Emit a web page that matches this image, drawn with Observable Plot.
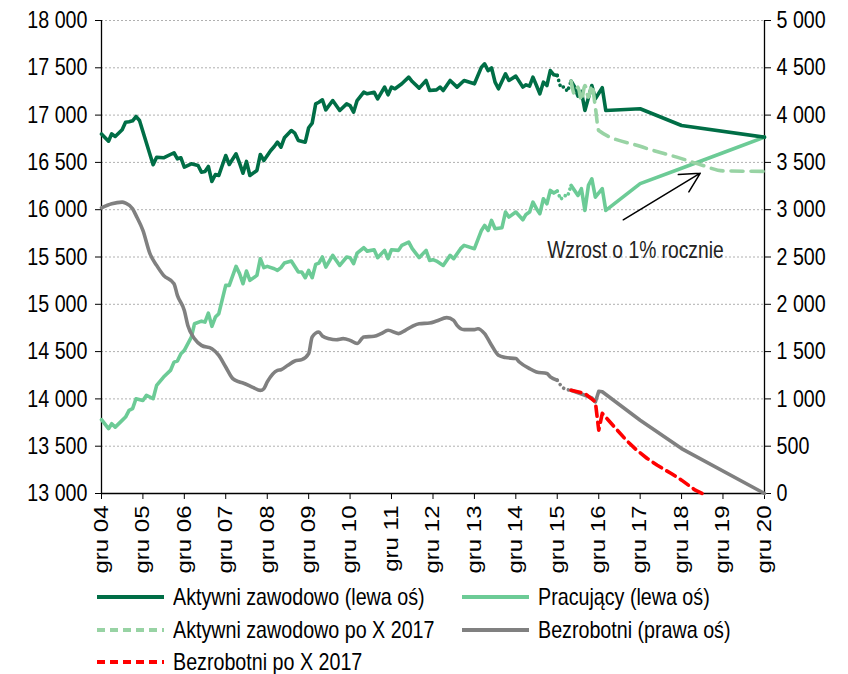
<!DOCTYPE html>
<html><head><meta charset="utf-8">
<script src="https://cdn.jsdelivr.net/npm/d3@7"></script>
<script src="https://cdn.jsdelivr.net/npm/@observablehq/plot@0.6"></script>
<style>
body{margin:0;background:#fff;font-family:"Liberation Sans",Arial,sans-serif;color:#000;}
#chart svg{display:block}
#legend{display:grid;grid-template-columns:365px auto;grid-auto-rows:32.5px;padding-left:97px;margin-top:1px;font-size:24px;}
#legend .item{display:flex;align-items:center;white-space:nowrap}
#legend svg{margin-right:9px;flex:none}
#legend span{display:inline-block;transform:scaleX(0.82);transform-origin:0 50%}
</style></head><body>
<div id="chart"></div>
<div id="legend"></div>
<script>
// ---- tick values ----
const yTicks = [13000,13500,14000,14500,15000,15500,16000,16500,17000,17500,18000];
const xTickYears = [2004,2005,2006,2007,2008,2009,2010,2011,2012,2013,2014,2015,2016,2017,2018,2019,2020];
const rightOffset = 13000; // right axis value = left value - 13000

// ---- Aktywni zawodowo (lewa oś), thousands ----
const aktywniMain = [["2004-12",16800],["2005-02",16724],["2005-03",16802],["2005-04",16774],["2005-06",16845],["2005-07",16925],["2005-08",16930],["2005-09",16940],["2005-10",16985],["2005-11",16943],
["2006-03",16475],["2006-04",16555],["2006-06",16549],["2006-09",16602],["2006-10",16538],["2006-11",16549],["2006-12",16450],
["2007-02",16485],["2007-04",16467],["2007-05",16397],["2007-06",16404],["2007-07",16457],["2007-08",16298],["2007-09",16372],["2007-10",16362],["2007-12",16573],
["2008-01",16478],["2008-03",16591],["2008-04",16492],["2008-05",16386],["2008-06",16510],["2008-07",16362],["2008-09",16415],["2008-10",16584],["2008-11",16520],
["2009-01",16626],["2009-02",16668],["2009-03",16714],["2009-04",16661],["2009-05",16760],["2009-07",16837],["2009-08",16809],["2009-09",16732],["2009-11",16714],["2009-12",16866],
["2010-01",16915],["2010-02",17119],["2010-03",17136],["2010-04",17162],["2010-05",17056],["2010-07",17154],["2010-09",17049],["2010-11",17119],["2010-12",17101],
["2011-01",17031],["2011-02",17154],["2011-04",17242],["2011-05",17225],["2011-07",17242],["2011-08",17172],["2011-10",17296],["2011-11",17215],["2011-12",17296],
["2012-01",17278],["2012-03",17331],["2012-05",17401],["2012-06",17355],["2012-08",17285],["2012-10",17366],["2012-11",17260],
["2013-01",17267],["2013-02",17296],["2013-03",17260],["2013-05",17366],["2013-07",17296],["2013-09",17366],["2013-12",17331],
["2014-02",17507],["2014-03",17542],["2014-04",17471],["2014-05",17500],["2014-06",17348],["2014-07",17278],["2014-09",17437],["2014-10",17366],["2014-12",17412],
["2015-02",17296],["2015-03",17320],["2015-04",17306],["2015-05",17401],["2015-06",17313],["2015-07",17225],["2015-08",17348],["2015-09",17313],["2015-10",17471],["2015-11",17426],["2015-12",17419]];
const aktywniGap = [["2015-12",17419],["2016-01",17290],["2016-02",17300],["2016-03",17250],["2016-04",17360]];
const aktywniTail = [["2016-04",17360],["2016-05",17300],["2016-06",17200],["2016-07",17250],["2016-08",17049],["2016-10",17313],["2016-11",17172],["2017-01",17289],["2017-02",17049],["2017-12",17067],["2018-12",16890],["2020-12",16767]];

// ---- Aktywni zawodowo po X 2017 ----
const aktywniPoX = [["2016-04",17360],["2016-05",17225],["2016-06",17296],["2016-07",17154],["2016-08",17313],["2016-09",17190],["2016-10",17313],["2016-11",17084],["2016-12",16837],["2017-12",16670],["2018-12",16540],["2019-06",16470],["2019-12",16410],["2020-12",16405]];

// ---- Pracujący (lewa oś) ----
const pracujacyMain = [["2004-12",13780],["2005-02",13685],["2005-03",13738],["2005-04",13702],["2005-06",13773],["2005-07",13808],["2005-08",13879],["2005-09",13897],["2005-10",14002],["2005-12",13984],
["2006-01",14037],["2006-03",14002],["2006-04",14143],["2006-06",14231],["2006-08",14301],["2006-09",14389],["2006-10",14400],["2006-11",14478],["2006-12",14513],
["2007-02",14653],["2007-03",14795],["2007-05",14822],["2007-06",14812],["2007-07",14907],["2007-08",14767],["2007-09",14865],["2007-10",14901],["2007-12",15200],
["2008-01",15200],["2008-03",15401],["2008-04",15324],["2008-05",15218],["2008-06",15351],["2008-07",15253],["2008-09",15306],["2008-10",15482],["2008-11",15387],["2008-12",15401],
["2009-02",15376],["2009-03",15358],["2009-04",15387],["2009-05",15436],["2009-07",15457],["2009-09",15341],["2009-10",15341],["2009-11",15281],["2009-12",15358],
["2010-01",15281],["2010-02",15422],["2010-03",15436],["2010-04",15500],["2010-05",15394],["2010-07",15517],["2010-09",15411],["2010-11",15500],["2010-12",15493],
["2011-01",15429],["2011-02",15541],["2011-04",15598],["2011-05",15562],["2011-07",15577],["2011-08",15493],["2011-10",15570],["2011-11",15482],["2011-12",15577],
["2012-02",15570],["2012-03",15623],["2012-05",15658],["2012-06",15588],["2012-08",15493],["2012-10",15570],["2012-11",15464],["2012-12",15472],
["2013-01",15457],["2013-03",15411],["2013-05",15517],["2013-06",15482],["2013-08",15588],["2013-09",15623],["2013-12",15588],
["2014-02",15781],["2014-03",15834],["2014-04",15781],["2014-05",15887],["2014-06",15799],["2014-08",15810],["2014-09",15975],["2014-10",15922],["2014-12",15975],
["2015-02",15894],["2015-03",15950],["2015-04",15975],["2015-05",16080],["2015-06",16011],["2015-07",15958],["2015-08",16116],["2015-09",16063],["2015-10",16204],["2015-11",16176],["2015-12",16197]];
const pracujacyGap = [["2015-12",16197],["2016-01",16109],["2016-02",16151],["2016-03",16140],["2016-04",16257]];
const pracujacyTail = [["2016-04",16257],["2016-06",16151],["2016-07",16222],["2016-08",15993],["2016-09",16257],["2016-10",16327],["2016-11",16133],["2017-01",16222],["2017-02",15993],["2017-12",16275],["2018-12",16438],["2019-12",16602],["2020-12",16767]];

// ---- Bezrobotni (prawa oś) ----
const bezrobotniMain = [["2004-12",3020],["2005-03",3063],["2005-06",3080],["2005-07",3069],["2005-09",3010],["2005-10",2940],["2005-12",2781],
["2006-02",2535],["2006-04",2411],["2006-06",2306],["2006-09",2218],["2006-10",2094],["2006-12",1935],
["2007-01",1777],["2007-03",1636],["2007-05",1566],["2007-08",1531],["2007-10",1460],["2007-12",1337],
["2008-02",1214],["2008-04",1179],["2008-05",1168],["2008-08",1119],["2008-10",1090],["2008-11",1108],["2008-12",1179],
["2009-03",1302],["2009-04",1309],["2009-06",1355],["2009-08",1401],["2009-10",1415],["2009-12",1479],
["2010-01",1654],["2010-03",1707],["2010-04",1665],["2010-06",1636],["2010-08",1626],["2010-10",1637],["2010-12",1619],
["2011-02",1585],["2011-04",1654],["2011-07",1662],["2011-09",1690],["2011-11",1725],
["2012-02",1690],["2012-04",1725],["2012-06",1767],["2012-08",1795],["2012-11",1802],
["2013-01",1823],["2013-04",1859],["2013-06",1830],["2013-07",1777],["2013-09",1732],["2013-12",1732],
["2014-01",1742],["2014-03",1690],["2014-05",1567],["2014-07",1461],["2014-09",1437],["2014-12",1426],
["2015-01",1390],["2015-04",1320],["2015-06",1285],["2015-09",1268],["2015-10",1232],["2015-12",1197]];
const bezrobotniGap = [["2015-12",1197],["2016-02",1109],["2016-04",1091]];
const bezrobotniTail = [["2016-04",1091],["2016-08",1039],["2016-10",1010],["2016-11",968],["2016-12",1081],["2017-01",1075],["2017-12",775],["2018-12",475],["2020-12",0]];

// ---- Bezrobotni po X 2017 ----
const bezrobotniPoX = [["2016-04",1091],["2016-08",1056],["2016-11",968],["2016-12",670],["2017-01",847],["2017-08",563],["2017-11",458],["2018-02",370],["2018-05",299],["2018-09",211],["2018-12",141],["2019-04",35],["2019-06",0]];

// ---- annotation ----
const noteText = ["Wzrost o 1% rocznie"];
const notePos = [["2017-10-20",15570]];
const arrowFrom = [["2017-07-05",15893]];
const arrowTo = [["2019-05-15",16386]];

// ---- colours ----
const cDark = "#006E46", cLight = "#6CCB96", cDash = "#98D3A4", cGrey = "#808080", cRed = "#FF0000";
const FONT = '"Liberation Sans",Arial,sans-serif';
const NARROW = 0.82; // horizontal squeeze to mimic the narrow typeface of the reference

const rows = (arr, off = 0) => arr.map(([d, v]) => ({date: new Date(d), value: v + off}));
const xDomain = [new Date("2004-12"), new Date("2020-12")];
const xTicks = xTickYears.map(y => new Date(`${y}-12`));
const fmt = v => v === 0 ? "0" : d3.format(",")(v).replace(/,/g, " ");

const W = 3.6;
const chart = Plot.plot({
  width: 848, height: 580,
  marginTop: 20, marginBottom: 87, marginLeft: 101, marginRight: 84,
  style: {fontFamily: FONT, fontSize: "24px", color: "#000", background: "#fff"},
  x: {type: "utc", domain: xDomain},
  y: {domain: [13000, 18000]},
  marks: [
    Plot.gridY(yTicks, {stroke: "#b0b0b0", strokeOpacity: 1, strokeDasharray: "2,2", strokeWidth: 1}),
    Plot.axisY(yTicks, {anchor: "left", tickFormat: fmt, tickSize: 6, tickPadding: 8, label: null, fontSize: 24}),
    Plot.axisY(yTicks, {anchor: "right", tickFormat: d => fmt(d - rightOffset), tickSize: 6, tickPadding: 6, label: null, fontSize: 24}),
    Plot.axisX(xTicks, {anchor: "bottom", tickFormat: d => "gru " + String(d.getUTCFullYear()).slice(2), tickRotate: -90, tickSize: 6, tickPadding: 6, label: null, fontSize: 24}),
    Plot.ruleX([xDomain[0], xDomain[1]], {y1: 13000, y2: 18000, stroke: "#000", strokeWidth: 1.3}),
    Plot.ruleY([13000], {stroke: "#000", strokeWidth: 1.3}),
    // Pracujący
    Plot.line(rows(pracujacyMain), {x: "date", y: "value", stroke: cLight, strokeWidth: W, strokeLinejoin: "round"}),
    Plot.line(rows(pracujacyGap), {x: "date", y: "value", stroke: cLight, strokeWidth: W, strokeDasharray: "0.1,5", strokeLinecap: "round"}),
    Plot.line(rows(pracujacyTail), {x: "date", y: "value", stroke: cLight, strokeWidth: W, strokeLinejoin: "round"}),
    // Aktywni
    Plot.line(rows(aktywniMain), {x: "date", y: "value", stroke: cDark, strokeWidth: W, strokeLinejoin: "round"}),
    Plot.line(rows(aktywniGap), {x: "date", y: "value", stroke: cDark, strokeWidth: W, strokeDasharray: "0.1,5", strokeLinecap: "round"}),
    Plot.line(rows(aktywniTail), {x: "date", y: "value", stroke: cDark, strokeWidth: W, strokeLinejoin: "round"}),
    // Bezrobotni
    Plot.line(rows(bezrobotniMain, rightOffset), {x: "date", y: "value", stroke: cGrey, strokeWidth: W, curve: "monotone-x"}),
    Plot.line(rows(bezrobotniGap, rightOffset), {x: "date", y: "value", stroke: cGrey, strokeWidth: W, strokeDasharray: "0.1,5", strokeLinecap: "round", curve: "monotone-x"}),
    Plot.line(rows(bezrobotniTail, rightOffset), {x: "date", y: "value", stroke: cGrey, strokeWidth: W}),
    // po X 2017
    Plot.line(rows(aktywniPoX), {x: "date", y: "value", stroke: cDash, strokeWidth: W, strokeDasharray: "12,8", curve: "monotone-x"}),
    Plot.line(rows(bezrobotniPoX, rightOffset), {x: "date", y: "value", stroke: cRed, strokeWidth: W, strokeDasharray: "10,6"}),
    // annotation
    Plot.arrow([0], {x1: () => new Date(arrowFrom[0][0]), y1: () => arrowFrom[0][1], x2: () => new Date(arrowTo[0][0]), y2: () => arrowTo[0][1], stroke: "#000", strokeWidth: 1.5, headLength: 22, headAngle: 55}),
    Plot.text(noteText, {x: () => new Date(notePos[0][0]), y: () => notePos[0][1], text: d => d, fontSize: 23.5, fill: "#222", textAnchor: "middle"})
  ]
});
// squeeze every text horizontally on screen (narrow typeface look):
// horizontal text shrinks along its length, rotated text shrinks across its glyph height
chart.querySelectorAll("text").forEach(t => {
  const x = +t.getAttribute("x") || 0, y = +t.getAttribute("y") || 0;
  let tr = t.getAttribute("transform") || "";
  const rotated = /rotate\(\s*-?90/.test(tr);
  if (x || y) { t.removeAttribute("x"); t.removeAttribute("y"); tr = `${tr} translate(${x},${y})`; }
  t.setAttribute("transform", rotated ? `${tr} scale(1,${NARROW})` : `${tr} scale(${NARROW},1)`);
});
document.getElementById("chart").append(chart);

// ---- legend ----
const legendItems = [
  {label: "Aktywni zawodowo (lewa oś)", color: cDark, dash: null},
  {label: "Pracujący (lewa oś)", color: cLight, dash: null},
  {label: "Aktywni zawodowo po X 2017", color: cDash, dash: "8,5"},
  {label: "Bezrobotni (prawa oś)", color: cGrey, dash: null},
  {label: "Bezrobotni po X 2017", color: cRed, dash: "8,5"}
];
const leg = document.getElementById("legend");
for (const it of legendItems) {
  const div = document.createElement("div");
  div.className = "item";
  div.innerHTML = `<svg width="67" height="10"><line x1="0" x2="67" y1="5" y2="5" stroke="${it.color}" stroke-width="4" ${it.dash ? `stroke-dasharray="${it.dash}"` : ""}/></svg><span>${it.label}</span>`;
  leg.append(div);
}
</script>
</body></html>
